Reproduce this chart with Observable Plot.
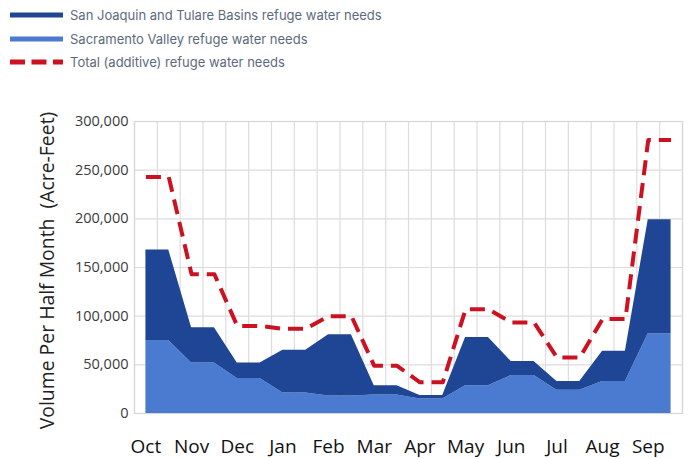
<!DOCTYPE html>
<html>
<head>
<meta charset="utf-8">
<script src="https://cdn.jsdelivr.net/npm/d3@7"></script>
<script src="https://cdn.jsdelivr.net/npm/@observablehq/plot@0.6"></script>
<style>
  html, body { margin: 0; padding: 0; background: #fff; }
  #legend { height: 80px; position: relative; font-family: Inter, "Noto Sans", sans-serif; font-size: 13px; color: #5b6b7e; }
  .item { position: absolute; left: 0; height: 20px; display: flex; align-items: center; }
  .item svg { margin-left: 10px; margin-right: 7px; }
</style>
</head>
<body>
<div id="legend"></div>
<div id="chart"></div>
<script>
// ---- data ----
const months = ["Oct","Nov","Dec","Jan","Feb","Mar","Apr","May","Jun","Jul","Aug","Sep"];
const halfMonths = ["Oct 1","Oct 16","Nov 1","Nov 16","Dec 1","Dec 16","Jan 1","Jan 16","Feb 1","Feb 16","Mar 1","Mar 16",
                    "Apr 1","Apr 16","May 1","May 16","Jun 1","Jun 16","Jul 1","Jul 16","Aug 1","Aug 16","Sep 1","Sep 16"];
const sacramento = [75000,75000,52000,52000,36000,36000,21000,21000,18000,18000,19000,19000,
                    15000,15000,28500,28500,39000,39000,24000,24000,33000,33000,82000,82000];
const sanJoaquin = [93000,93000,36000,36000,16000,16000,44000,44000,63000,63000,9500,9500,
                    3400,3400,49500,49500,14500,14500,9000,9000,31000,31000,117000,117000];
const totalNeeds = [243000,243000,143000,143000,90000,90000,87000,87000,100000,100000,49000,49000,
                    32000,32000,107000,107000,93500,93500,57500,57500,97000,97000,281000,281000];
const yTicks = [0,50000,100000,150000,200000,250000,300000];
const seriesNames = ["San Joaquin and Tulare Basins refuge water needs",
                     "Sacramento Valley refuge water needs",
                     "Total (additive) refuge water needs"];
const yLabel = "Volume Per Half Month  (Acre-Feet)";
const colors = {dark: "#1f4694", light: "#4a7bd0", red: "#cc1220"};

// ---- legend ----
const legend = document.getElementById("legend");
const legendStyles = [
  {color: colors.dark, dash: null},
  {color: colors.light, dash: null},
  {color: colors.red, dash: "15,6.5"}
];
seriesNames.forEach((name, k) => {
  const div = document.createElement("div");
  div.className = "item";
  div.style.top = (5 + k * 23.5) + "px";
  const st = legendStyles[k];
  div.innerHTML = `<svg width="53" height="8"><line x1="0" x2="53" y1="4" y2="4" stroke="${st.color}" stroke-width="5" ${st.dash ? `stroke-dasharray="${st.dash}"` : ""}/></svg><span>${name}</span>`;
  legend.appendChild(div);
});

// ---- tables ----
const rows = [];
halfMonths.forEach((h, i) => rows.push({i, series: "Sacramento", value: sacramento[i]}));
halfMonths.forEach((h, i) => rows.push({i, series: "SanJoaquin", value: sanJoaquin[i]}));
const totalRows = halfMonths.map((h, i) => ({i, value: totalNeeds[i]}));
const boundaries = halfMonths.map((h, i) => i - 0.5).concat([halfMonths.length - 0.5]);
const monthTicks = months.map((m, k) => 2 * k);

const chart = Plot.plot({
  width: 692,
  height: 379,
  marginLeft: 134,
  marginRight: 10,
  marginTop: 41,
  marginBottom: 46,
  style: {fontFamily: "'Open Sans', sans-serif", background: "white", color: "#333", overflow: "visible"},
  x: {type: "linear", domain: [-0.5, halfMonths.length - 0.5]},
  y: {domain: [0, 300000]},
  color: {domain: ["Sacramento", "SanJoaquin"], range: [colors.light, colors.dark]},
  marks: [
    Plot.gridX(boundaries, {stroke: "#dcdcdc", strokeOpacity: 1, strokeWidth: 1.2}),
    Plot.gridY(yTicks, {stroke: "#dcdcdc", strokeOpacity: 1, strokeWidth: 1.2}),
    Plot.frame({stroke: "#d6d6d6", strokeWidth: 1.2}),
    Plot.areaY(rows, {x: "i", y: "value", z: "series", fill: "series", order: ["Sacramento", "SanJoaquin"]}),
    Plot.lineY(totalRows, {x: "i", y: "value", stroke: colors.red, strokeWidth: 4, strokeDasharray: "15,8", strokeLinecap: "butt"}),
    Plot.axisY(yTicks, {tickSize: 0, tickPadding: 6, tickFormat: d3.format(","), fontSize: 14.5, fill: "#3a3a3a", label: null}),
    Plot.axisX(monthTicks, {tickSize: 0, tickPadding: 26, tickFormat: i => months[i / 2], fontSize: 19, fill: "#111", label: null}),
    Plot.text([yLabel], {frameAnchor: "left", dx: -87, dy: 3, rotate: -90, textAnchor: "middle", fontSize: 19.4, fill: "#222"})
  ]
});
document.getElementById("chart").appendChild(chart);
</script>
</body>
</html>
